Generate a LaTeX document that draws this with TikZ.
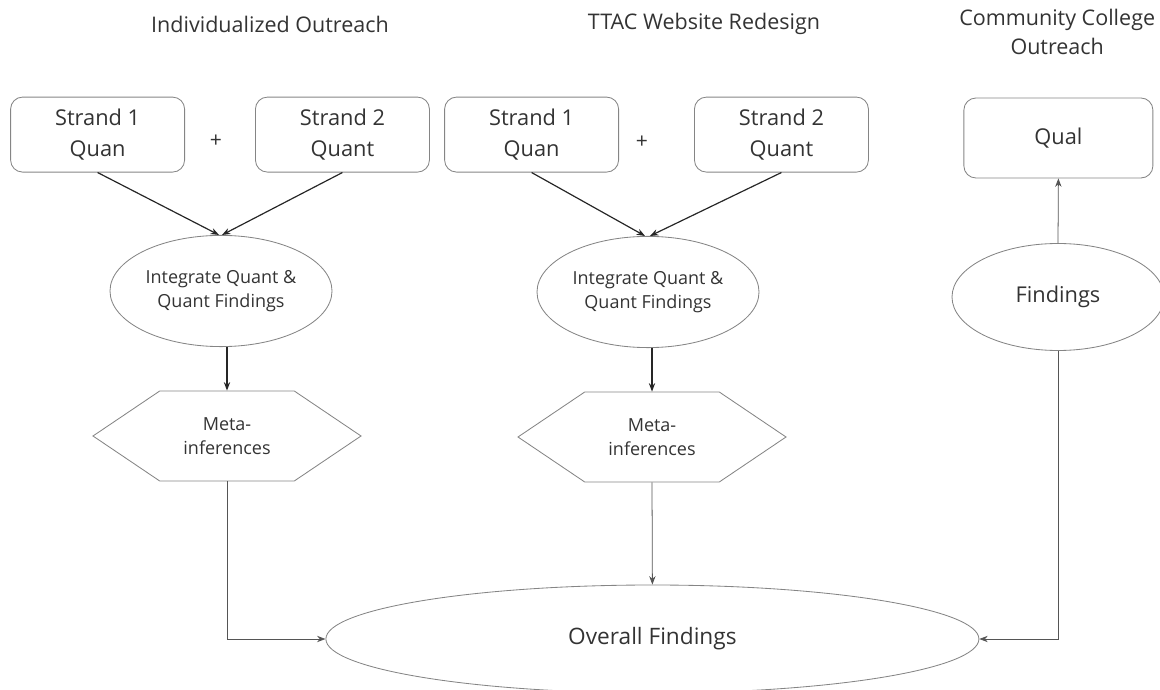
\documentclass[tikz,border=0pt]{standalone}
\usepackage{fontspec}
\setmainfont{Open Sans}
\usetikzlibrary{positioning,shapes.geometric,shapes.symbols,arrows.meta}

\definecolor{inkgray}{HTML}{333333}
\definecolor{linegray}{HTML}{858585}
\definecolor{wiregray}{HTML}{555555}

\begin{document}
\begin{tikzpicture}[>={Stealth[length=6pt,width=4.5pt]},
    title node/.style={text=inkgray,font=\fontsize{15.3}{20.6}\selectfont,align=center},
    strand node/.style={rectangle,rounded corners=0.3cm,draw=linegray,line width=0.6pt,text=inkgray,font=\fontsize{15.5}{22}\selectfont,align=center,minimum width=4.35cm,minimum height=1.875cm},
    merge node/.style={ellipse,draw=linegray,line width=0.6pt,text=inkgray,font=\fontsize{12.8}{16.7}\selectfont,align=center,minimum width=5.55cm,minimum height=2.78cm,inner sep=0pt},
    meta node/.style={signal,signal to=west and east,signal pointer angle=68,draw=linegray,line width=0.6pt,text=inkgray,font=\fontsize{12.8}{16.7}\selectfont,align=center,minimum width=6.7cm,minimum height=2.25cm},
    plus node/.style={text=inkgray,font=\fontsize{15}{18}\selectfont},
    main arrow/.style={->,color=black!85,line width=0.85pt},
    thin arrow/.style={->,color=wiregray,line width=0.55pt}]
    \useasboundingbox (0,0) rectangle (29,17.225);

    % column headings
    \node[title node] (ttl1) at (6.75,16.625) {Individualized Outreach};
    \node[title node] (ttl2) at (17.6,16.625) {TTAC Website Redesign};
    \node[title node] (ttl3) at (26.43,16.42) {Community College\\Outreach};

    % strands
    \node[strand node] (s11) at (2.44,13.86) {Strand 1\\Quan};
    \node[strand node] (s12) [right=1.75cm of s11] {Strand 2\\Quant};
    \node[plus node] (p1) at (5.4,13.7) {+};
    \node[strand node] (s21) at (13.29,13.86) {Strand 1\\Quan};
    \node[strand node] (s22) [right=1.875cm of s21] {Strand 2\\Quant};
    \node[plus node] (p2) at (16.05,13.68) {+};
    \node[strand node,minimum width=4.725cm,minimum height=2cm] (qual) at (26.46,13.775) {Qual};

    % integration
    \node[merge node] (e1) at (5.525,9.95) {Integrate Quant \&\\Quant Findings};
    \node[merge node] (e2) at (16.2,9.925) {Integrate Quant \&\\Quant Findings};
    \node[merge node,font=\fontsize{15.5}{22}\selectfont,minimum width=5.3cm,minimum height=2.675cm] (find) at (26.45,9.8) {Findings};

    \node[meta node] (m1) at (5.675,6.325) {Meta-\\inferences};
    \node[meta node] (m2) at (16.3,6.3) {Meta-\\inferences};

    \node[merge node,font=\fontsize{16.1}{22}\selectfont,minimum width=16.325cm,minimum height=2.7cm] (over) at (16.31,1.25) {Overall Findings};

    \path[main arrow]
        (s11.south) edge (e1.92)
        (s12.south) edge (e1.89)
        (s21.south) edge (e2.93)
        (s22.south) edge (e2.88)
        (e1.south -| m1.north) edge (m1.north)
        (e2.south -| m2.north) edge (m2.north)
        ;

    \path[thin arrow]
        (m2.south) edge (over.north)
        (find.north) edge (qual.south)
        ;
    \draw[thin arrow] (m1.south) |- (over.west);
    \draw[thin arrow] (find.south) |- (over.east);
\end{tikzpicture}
\end{document}
